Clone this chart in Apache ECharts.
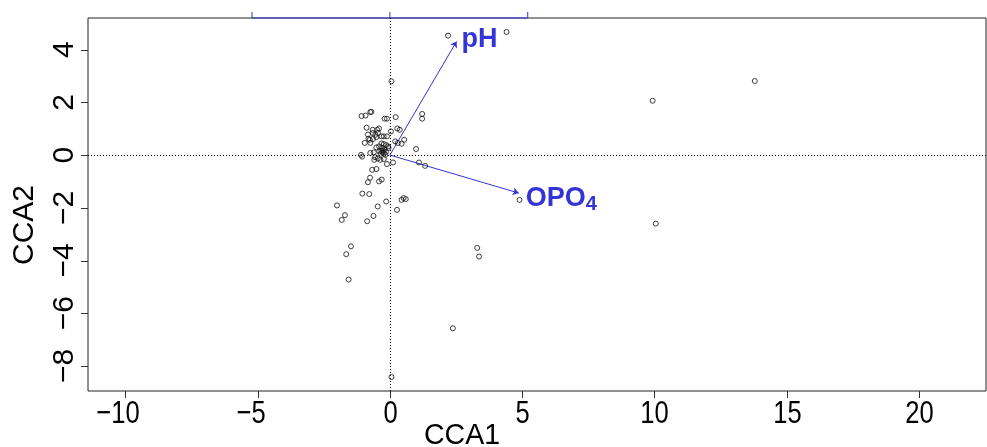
<!DOCTYPE html>
<html>
<head>
<meta charset="utf-8">
<script src="https://cdn.jsdelivr.net/npm/echarts@6/dist/echarts.min.js"></script>
<style>
html,body{margin:0;padding:0;background:#fff;}
#chart{width:987px;height:447px;}
</style>
</head>
<body>
<div id="chart"></div>
<script>
// ---- data ----
const siteX = [0.06,-1.07,-0.92,-0.74,-0.70,0.22,1.22,1.22,-0.20,-0.11,-0.88,-0.65,-0.48,-0.41,-0.45,-0.55,-0.65,-0.83,0.04,0.28,0.37,-0.81,-0.76,-0.95,-0.74,-0.64,-0.51,-0.32,-0.23,-0.11,0.20,0.30,0.44,0.54,-0.32,-0.23,-0.14,-0.51,-0.41,-0.30,-0.07,-0.74,-0.61,-0.40,-0.32,-0.26,-0.23,-0.35,-0.17,-0.05,0.99,-1.09,-1.05,-0.56,-0.46,-0.36,-0.59,-0.23,-0.11,0.12,1.10,1.33,-0.67,-0.51,-0.75,-0.83,-0.31,-0.41,-1.04,-0.78,-0.14,-0.46,0.44,0.52,0.60,0.27,-2.00,-1.70,-1.82,-0.62,-0.86,-1.47,-1.65,-1.56,0.06,3.30,3.37,2.38,10.05,13.79,9.93,2.20,4.41,4.90,-0.20,-0.28,-0.15];
const siteY = [2.80,1.48,1.50,1.63,1.64,1.44,1.56,1.38,1.38,1.38,1.04,0.96,0.96,1.01,0.84,0.77,0.84,0.78,0.90,1.01,0.96,0.62,0.58,0.46,0.46,0.61,0.68,0.71,0.71,0.71,0.52,0.46,0.43,0.58,0.44,0.42,0.38,0.29,0.33,0.27,0.33,0.08,0.10,0.14,0.17,0.17,0.08,0.05,0.01,0.27,0.23,0.01,-0.06,-0.08,-0.13,-0.18,-0.18,-0.15,-0.34,-0.28,-0.28,-0.41,-0.56,-0.53,-0.86,-1.03,-0.93,-1.00,-1.46,-1.48,-1.76,-1.95,-1.70,-1.63,-1.67,-2.08,-1.91,-2.28,-2.46,-2.31,-2.51,-3.46,-3.76,-4.72,-8.42,-3.52,-3.85,-6.57,-2.60,2.81,2.06,4.53,4.67,-1.70,0.22,0.10,0.12];
const envNames = ['pH','OPO4'];
const envX = [2.52, 4.87];
const envY = [4.31, -1.44];
const xTicks = [-10,-5,0,5,10,15,20];
const yTicks = [-8,-6,-4,-2,0,2,4];
const topAxisTicks = [-1,0,1];
const biplotMul = 5.21;
const xRange = [-11.41, 22.53];
const yRange = [-8.95, 5.2];

const blue = '#3434d6';
const chart = echarts.init(document.getElementById('chart'), null, {renderer:'canvas'});
const sites = siteX.map((x,i)=>[x, siteY[i]]);
const fmt = v => String(v).replace('-','\u2212');
const font = '"Liberation Sans",Arial,sans-serif';

const option = {
  animation:false,
  backgroundColor:'#fff',
  grid:{left:88, top:18, right:1, bottom:56, show:true, borderColor:'#222', borderWidth:1, backgroundColor:'transparent'},
  xAxis:{type:'value', min:xRange[0], max:xRange[1], splitLine:{show:false},
    axisLine:{show:false, onZero:false},
    axisTick:{show:false},
    axisLabel:{show:false}},
  yAxis:{type:'value', min:yRange[0], max:yRange[1], splitLine:{show:false},
    axisLine:{show:false, onZero:false},
    axisTick:{show:false},
    axisLabel:{customValues:yTicks, rotate:90, margin:8, fontSize:30, color:'#000', fontFamily:font, formatter:fmt}},
  series:[
    {type:'scatter', data:[[0,0]], symbolSize:0, silent:true, z:1,
      markLine:{silent:true, symbol:['none','none'], label:{show:false},
        lineStyle:{color:'#000', type:[1,2], width:1},
        data:[{xAxis:0},{yAxis:0}]}},
    {type:'lines', coordinateSystem:'cartesian2d', z:2, silent:true,
      symbol:['none','arrow'], symbolSize:6,
      lineStyle:{color:blue, width:1, opacity:1},
      data:envNames.map((n,i)=>({coords:[[0,0],[envX[i],envY[i]]]}))},
    {type:'custom', coordinateSystem:'cartesian2d', clip:false, silent:true, z:3,
      data:topAxisTicks.map(t=>[t*biplotMul, yRange[1]]),
      renderItem:(params, api)=>{
        const p = api.coord([api.value(0), api.value(1)]);
        const children = [{type:'line', shape:{x1:p[0], y1:p[1], x2:p[0], y2:p[1]-6}, style:{stroke:blue, lineWidth:1}}];
        if(params.dataIndex===0){
          const q = api.coord([topAxisTicks[topAxisTicks.length-1]*biplotMul, yRange[1]]);
          children.push({type:'line', shape:{x1:p[0], y1:p[1], x2:q[0], y2:q[1]}, style:{stroke:blue, lineWidth:1}});
        }
        return {type:'group', children};
      }},
    {type:'scatter', data:sites, symbol:'circle', symbolSize:5, z:4, silent:true,
      itemStyle:{color:'rgba(0,0,0,0)', borderColor:'#111', borderWidth:1}},
    {type:'scatter', z:5, silent:true, symbolSize:0, itemStyle:{color:blue, opacity:1},
      data:envNames.map((n,i)=>({value:[envX[i],envY[i]], name:n})),
      label:{show:true, color:blue, opacity:1, textBorderWidth:0, fontWeight:'bold', fontSize:27, fontFamily:font,
        formatter:p=>p.name==='OPO4' ? '{a|OPO}{b|4}' : '{a|pH}',
        rich:{a:{fontSize:27, fontWeight:'bold', color:blue, lineHeight:30, verticalAlign:'bottom', fontFamily:font, textBorderWidth:0},
              b:{fontSize:20, fontWeight:'bold', color:blue, lineHeight:30, verticalAlign:'bottom', padding:[0,0,-2,0], fontFamily:font, textBorderWidth:0}},
        position:'right'},
      labelLayout:(params)=>{
        return params.dataIndex===0 ? {dx:0, dy:-3} : {dx:2, dy:4};
      }}
  ]
};
chart.setOption(option);

// tick marks and x tick labels, placed through the axis scales
const xFont = 32, xScale = 0.8, digitW = 0.556 * xFont * xScale;
const gfx = [];
const yBottom = chart.convertToPixel({yAxisIndex:0}, yRange[0]);
const xLeft = chart.convertToPixel({xAxisIndex:0}, xRange[0]);
xTicks.forEach(v=>{
  const px = Math.round(chart.convertToPixel({xAxisIndex:0}, v)) + 0.5;
  gfx.push({type:'line', silent:true, z:50, shape:{x1:px, y1:yBottom, x2:px, y2:yBottom+7}, style:{stroke:'#333', lineWidth:1}});
  const digits = String(Math.abs(v));
  gfx.push({type:'text', x:px, y:398, scaleX:xScale, silent:true,
    style:{text:digits, fontSize:xFont, fill:'#000', fontFamily:font, align:'center', verticalAlign:'top'}});
  if(v<0){
    gfx.push({type:'text', x:px - digits.length*digitW/2, y:398, scaleX:xScale, silent:true,
      style:{text:'\u2212', fontSize:xFont, fill:'#000', fontFamily:font, align:'right', verticalAlign:'top'}});
  }
});
yTicks.forEach(v=>{
  const py = Math.round(chart.convertToPixel({yAxisIndex:0}, v)) + 0.5;
  gfx.push({type:'line', silent:true, z:50, shape:{x1:xLeft-7, y1:py, x2:xLeft, y2:py}, style:{stroke:'#333', lineWidth:1}});
});
gfx.push({type:'text', x:462, y:421, scaleX:0.95, silent:true, style:{text:'CCA1', fontSize:30, fill:'#000', align:'center', verticalAlign:'top', fontFamily:font}});
gfx.push({type:'text', x:10, y:225, rotation:Math.PI/2, silent:true, style:{text:'CCA2', fontSize:30, fill:'#000', align:'center', verticalAlign:'top', fontFamily:font}});
chart.setOption({graphic:gfx});
</script>
</body>
</html>
